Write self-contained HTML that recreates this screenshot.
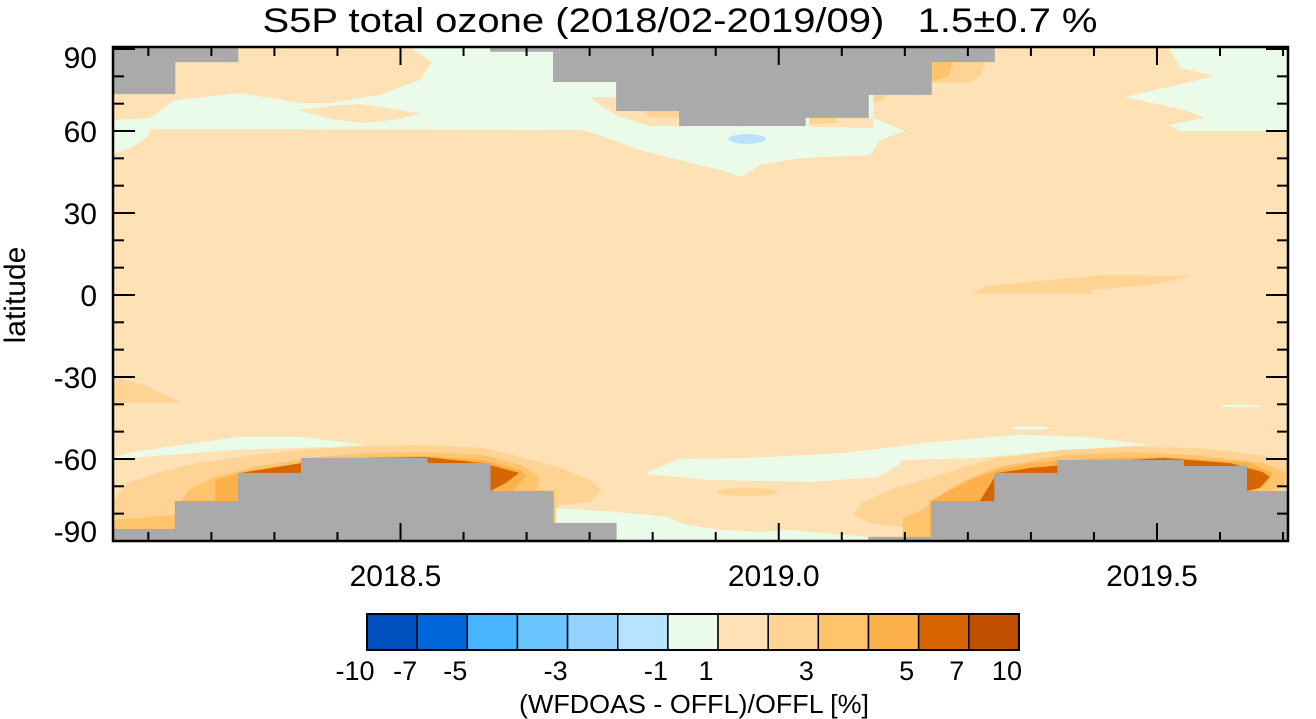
<!DOCTYPE html>
<html><head><meta charset="utf-8"><style>
html,body{margin:0;padding:0;background:#fff;}
svg{display:block;font-family:"Liberation Sans",sans-serif;}
</style></head><body>
<svg id="chart" width="1316" height="719" viewBox="0 0 1316 719" xmlns="http://www.w3.org/2000/svg">
<defs><clipPath id="plotclip"><rect x="113" y="47" width="1175" height="494"/></clipPath></defs>
<text x="680" y="32" font-size="34" text-anchor="middle" textLength="835" lengthAdjust="spacingAndGlyphs">S5P total ozone (2018/02-2019/09)&#160;&#160;&#160;1.5±0.7&#160;%</text>
<rect x="113" y="47" width="1175" height="494" fill="#FEE1B5"/>
<g id="contours" clip-path="url(#plotclip)"></g>
<g id="gray" clip-path="url(#plotclip)"></g>
<g id="axes"></g>
<text transform="translate(25,295) rotate(-90)" font-size="30" text-anchor="middle">latitude</text>
<g id="cbar"></g>
<text x="694" y="713" font-size="26" text-anchor="middle" textLength="350" lengthAdjust="spacingAndGlyphs">(WFDOAS - OFFL)/OFFL [%]</text>
</svg>
<script>
// ---- data (x unit: months since Jan 2018, y unit: latitude) ----
const monthTicks = [2,3,4,5,6,7,8,9,10,11,12,13,14,15,16,17,18,19,20];
const majorMonths = [6,12,18];
const xTickLabels = ["2018.5","2019.0","2019.5"];
const latTicks = [-90,-80,-70,-60,-50,-40,-30,-20,-10,0,10,20,30,40,50,60,70,80,90];
const latMajor = [-90,-60,-30,0,30,60,90];
const latLabels = ["-90","-60","-30","0","30","60","90"];
// no-data (gray) monthly columns: upper and lower lat limits of valid data
const grayTopLat = [73.5,85.2,91,91,91,91,89,77.9,67.3,61.8,61.8,64.8,73.2,85.2,91,91,91,91,91];
const grayBotLat = [-85.6,-75.4,-65.1,-59.6,-59.6,-61.5,-71.7,-83.4,-91,-91,-91,-91,-88.5,-75.4,-65.1,-60.4,-60.4,-62.6,-71.7];
const cbarColors = ["#0050C0","#0068D8","#48B4FF","#6CC4FF","#96D2FF","#B8E2FF","#EAFCE9","#FEE1B5","#FED393","#FEC46C","#FDB14A","#D86600","#C05000"];
const cbarLabels = ["-10","-7","-5","-3","-1","1","3","5","7","10"];
const cbarLabelIdx = [0,1,2,4,6,7,9,11,12,13];
// contour polygons [month, lat]
const greenNorth = [[1.44,64.0],[2.03,64.8],[2.42,71.3],[3.45,73.9],[4.41,70.2],[4.88,70.2],[5.67,73.2],[6.31,78.7],[6.50,85.2],[6.15,90.7],[13.50,90.7],[13.50,64.8],[14.00,60.0],[13.61,56.7],[13.45,51.2],[12.34,50.1],[11.70,47.6],[11.42,43.2],[11.07,45.7],[10.43,49.4],[9.80,53.0],[9.16,58.5],[8.85,60.4],[2.03,60.7],[1.98,57.8],[1.71,53.8],[1.47,52.0],[1.44,52.0]];
const orangeLensN = [[4.37,67.7],[4.88,69.1],[5.36,69.9],[6.31,66.6],[5.99,64.4],[5.44,62.9],[4.88,64.4]];
const greenNE = [[18.18,90.7],[18.37,83.1],[18.92,80.1],[17.49,72.4],[18.45,67.7],[18.76,64.8],[18.18,62.2],[18.37,60.0],[20.2,60.0],[20.2,90.7]];
const patchN1 = [[9.01,72.4],[9.45,72.4],[9.45,67.3],[10.48,67.3],[10.48,61.8],[9.96,61.8],[9.48,65.1],[9.16,69.5]];
const patchN1b = [[9.86,67.3],[10.48,67.3],[10.48,64.8],[9.96,65.1]];
const patchN2 = [[12.48,64.8],[13.50,64.8],[13.50,61.1],[12.48,61.5]];
const patchN2b = [[12.48,64.8],[12.91,64.8],[12.91,62.9],[12.48,62.6]];
const patchN3 = [[13.50,73.2],[13.72,73.2],[13.61,70.6],[13.50,70.6]];
const patchN4 = [[14.42,85.2],[15.27,85.2],[15.20,80],[15.0,77.6],[14.42,77.6]];
const patchN4b = [[14.42,85.2],[14.75,85.2],[14.70,80],[14.42,78]];
const patchEq = [[15.07,0.7],[16.99,0.4],[16.96,1.8],[17.89,3.7],[18.59,7.0],[17.13,7.3],[15.30,3.3]];
const patchW = [[1.44,-30],[1.92,-32.9],[2.34,-37.3],[2.50,-39.5],[1.44,-39.5]];
const greenSW = [[1.47,-59.3],[1.76,-57.5],[2.55,-54.8],[3.45,-51.9],[4.41,-51.9],[5.41,-54.8],[4.93,-55.6],[3.34,-56.7],[2.30,-58.6],[1.47,-60.0]];
const greenSM = [[9.93,-64.8],[10.42,-60.0],[11.54,-59.6],[13.07,-57.8],[14.34,-54.1],[15.80,-51.2],[16.84,-51.9],[17.83,-54.8],[16.15,-57.5],[15.18,-59.6],[13.94,-60.4],[13.91,-62.2],[13.56,-66.6],[12.51,-68.4],[10.91,-67.7],[9.93,-65.5]];
const greenSB = [[8.47,-77.9],[9.43,-79.4],[10.23,-81.2],[10.48,-83.8],[11.07,-86.0],[11.70,-86.7],[12.18,-86.0],[12.65,-87.1],[13.50,-88.6],[13.50,-90.5],[8.47,-90.5]];
const lb1 = [[1.44,-75.7],[1.66,-68.8],[2.14,-65.1],[2.76,-61.5],[3.66,-58.6],[4.56,-56.4],[5.48,-55.3],[6.39,-54.8],[7.31,-56.0],[7.91,-59.3],[8.51,-63.0],[9.01,-67.7],[9.18,-71.4],[9.01,-75.7],[8.51,-76.8],[8.45,-90.5],[1.44,-90.5]];
const lb2 = [[2.42,-79.8],[2.63,-71.4],[3.06,-66.6],[3.66,-63.0],[4.56,-59.6],[5.48,-57.8],[6.39,-57.5],[7.31,-58.6],[7.91,-62.2],[8.21,-66.6],[8.15,-71.4],[8.45,-71.7],[8.45,-90.5],[2.42,-90.5]];
const lb2b = [[1.47,-82.3],[2.42,-80.5],[2.42,-86],[1.47,-86]];
const lb3 = [[3.06,-75.7],[3.06,-67.7],[3.66,-64.0],[4.56,-61.1],[5.48,-59.3],[6.39,-58.9],[7.31,-60.4],[7.91,-64.0],[7.98,-66.6],[7.79,-71.4],[7.79,-90.5],[3.06,-90.5]];
const lb4 = [[3.45,-65.1],[3.96,-63.3],[4.42,-61.5],[5.48,-59.6],[6.39,-59.3],[7.31,-61.5],[7.88,-65.1],[7.67,-68.8],[7.45,-71.4],[7.45,-90.5],[3.45,-90.5]];
const rb1 = [[13.97,-84.9],[13.50,-83.8],[13.18,-80.5],[13.34,-75.7],[13.88,-70.3],[14.40,-67.0],[14.92,-63.0],[15.46,-59.6],[16.51,-56.7],[17.57,-55.6],[18.64,-56.0],[19.68,-58.6],[20.27,-61.5],[20.27,-90.5],[13.97,-90.5]];
const rb2 = [[13.97,-81.6],[14.29,-78.6],[14.67,-71.4],[15.03,-67.0],[15.46,-63.0],[16.51,-58.6],[17.57,-57.5],[18.64,-58.6],[19.68,-61.5],[20.06,-65.1],[20.00,-70.3],[19.74,-71.7],[19.74,-90.5],[13.97,-90.5]];
const rb3 = [[14.40,-75.4],[15.03,-67.7],[15.46,-64.0],[15.99,-61.5],[17.05,-59.6],[18.10,-59.3],[19.43,-61.1],[19.84,-65.1],[19.68,-70.6],[19.44,-71.7],[19.44,-90.5],[14.40,-90.5]];
const rb4 = [[15.19,-75.4],[15.35,-69.5],[15.46,-65.1],[15.99,-63.3],[17.05,-61.1],[18.10,-59.6],[19.16,-61.5],[19.68,-64.8],[19.79,-66.6],[19.63,-70.6],[19.44,-71.7],[19.44,-90.5],[15.19,-90.5]];
// ellipses [month, lat, rMonth, rLat]
const blueSpot = [11.50,57.1,0.3,1.8];
const darkSpotS = [11.50,-72.1,0.48,1.5];
const greenSpot1 = [15.99,-48.7,0.3,0.6];
const greenSpot2 = [19.32,-40.6,0.3,0.5];

// ---- axis functions ----
const X0=113, X1=1288, Y0=47, Y1=541;
function xs(m){ return 400.5 + (m-6)*63.04; }
function ys(lat){ return 131 + (60-lat)*2.733; }

const NS="http://www.w3.org/2000/svg";
function mk(tag, attrs, parent){
  const e=document.createElementNS(NS,tag);
  for(const k in attrs) e.setAttribute(k,attrs[k]);
  parent.appendChild(e); return e;
}
const cont=document.getElementById('contours');
function poly(pts, fill, name){
  const d=pts.map((p,i)=>(i?'L':'M')+xs(p[0]).toFixed(1)+','+ys(p[1]).toFixed(1)).join('')+'Z';
  const e=mk('path',{d:d,fill:fill},cont);
  
  
}
function ell(v, fill, name){
  const e=mk('ellipse',{cx:xs(v[0]),cy:ys(v[1]),rx:v[2]*63.04,ry:v[3]*2.733,fill:fill},cont);
  
  
}
const C=cbarColors;
poly(greenNorth,C[6],'contour-north-green');
poly(orangeLensN,C[7],'contour-north-orange-lens');
poly(greenNE,C[6],'contour-northeast-green');
ell(blueSpot,C[5],'contour-blue-spot');
poly(patchN1,C[7],'contour-patch-n1');
poly(patchN1b,C[8],'contour-patch-n1-dark');
poly(patchN2,C[7],'contour-patch-n2');
poly(patchN2b,C[8],'contour-patch-n2-dark');
poly(patchN3,C[8],'contour-patch-n3');
poly(patchN4,C[8],'contour-patch-n4');
poly(patchN4b,C[9],'contour-patch-n4-dark');
poly(patchEq,C[8],'contour-equator-patch');
poly(patchW,C[8],'contour-west-patch');
poly(greenSW,C[6],'contour-southwest-green');
poly(greenSM,C[6],'contour-south-mid-green');
poly(lb1,C[8],'contour-south-left-band1');
poly(lb2,C[9],'contour-south-left-band2');
poly(lb2b,C[9],'contour-south-left-band2b');
poly(lb3,C[10],'contour-south-left-band3');
poly(lb4,C[11],'contour-south-left-band4');
poly(rb1,C[8],'contour-south-right-band1');
poly(rb2,C[9],'contour-south-right-band2');
poly(rb3,C[10],'contour-south-right-band3');
poly(rb4,C[11],'contour-south-right-band4');
poly(greenSB,C[6],'contour-south-bottom-green');
ell(darkSpotS,C[8],'contour-south-dark-spot');
ell(greenSpot1,C[6],'contour-green-speck-1');
ell(greenSpot2,C[6],'contour-green-speck-2');

// gray no-data columns
const gray=document.getElementById('gray');
for(let j=0;j<grayTopLat.length;j++){
  const xa=xs(1.42+j), xb=xs(2.42+j);
  if(grayTopLat[j]<90.7){
    const r=mk('rect',{x:xa,y:Y0-2,width:xb-xa+0.5,height:ys(grayTopLat[j])-Y0+2,fill:'#AAAAAA'},gray);
    
    
  }
  if(grayBotLat[j]>-90){
    const r=mk('rect',{x:xa,y:ys(grayBotLat[j]),width:xb-xa+0.5,height:Y1+2-ys(grayBotLat[j]),fill:'#AAAAAA'},gray);
    
    
  }
}

// axes
const ax=document.getElementById('axes');
const frame=mk('rect',{x:X0,y:Y0,width:X1-X0,height:Y1-Y0,fill:'none',stroke:'#000','stroke-width':2.5},ax);


monthTicks.forEach(m=>{
  const x=xs(m), L=majorMonths.includes(m)?18:9;
  const t1=mk('line',{x1:x,x2:x,y1:Y1,y2:Y1-L,stroke:'#000','stroke-width':2},ax);
  
  
  const t2=mk('line',{x1:x,x2:x,y1:Y0,y2:Y0+L,stroke:'#000','stroke-width':2},ax);
  
  
});
majorMonths.forEach((m,i)=>{
  const t=mk('text',{x:xs(m)-5,y:586,'font-size':30,'text-anchor':'middle'},ax);
  t.textContent=xTickLabels[i];
  
  
});
latTicks.forEach(l=>{
  const y=ys(l), L=latMajor.includes(l)?22:11;
  const t1=mk('line',{x1:X0,x2:X0+L,y1:y,y2:y,stroke:'#000','stroke-width':2},ax);
  
  
  const t2=mk('line',{x1:X1,x2:X1-L,y1:y,y2:y,stroke:'#000','stroke-width':2},ax);
  
  
});
latMajor.forEach((l,i)=>{
  let y=ys(l)+11;
  if(l===90) y+=8;
  if(l===-90) y-=10;
  const t=mk('text',{x:97,y:y,'font-size':30,'text-anchor':'end'},ax);
  t.textContent=latLabels[i];
  
  
});

// colorbar
const cb=document.getElementById('cbar');
const CB0=367, CBW=50.15, CBY=614, CBH=36;
C.forEach((c,i)=>{
  const r=mk('rect',{x:CB0+i*CBW,y:CBY,width:CBW,height:CBH,fill:c,stroke:'#000','stroke-width':1.5},cb);
  
  
});
const cbf=mk('rect',{x:CB0,y:CBY,width:CBW*13,height:CBH,fill:'none',stroke:'#000','stroke-width':2},cb);


cbarLabels.forEach((s,i)=>{
  const t=mk('text',{x:CB0+cbarLabelIdx[i]*CBW-12,y:680,'font-size':27,'text-anchor':'middle'},cb);
  t.textContent=s;
  
  
});
</script>
</body></html>
